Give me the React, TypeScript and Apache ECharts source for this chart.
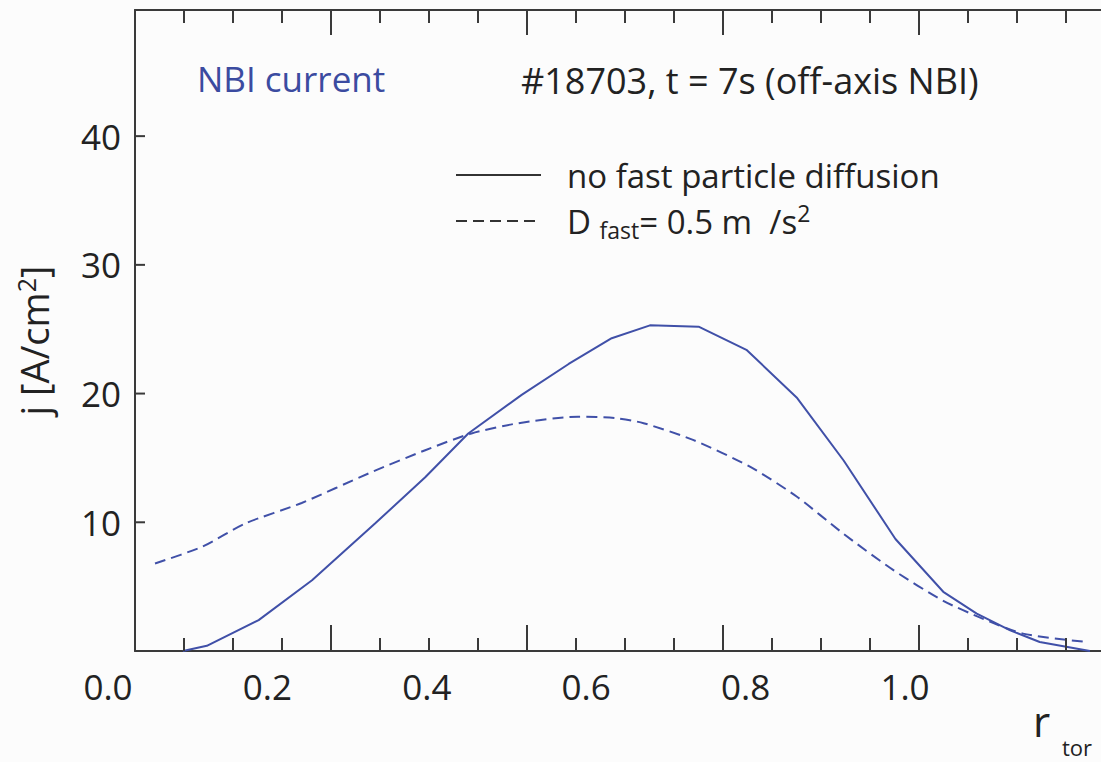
import React, { useEffect, useRef } from 'react';
import * as echarts from 'echarts';

// r_tor values (label scale) and current density j [A/cm^2]
const solidR = [0.094, 0.124, 0.189, 0.256, 0.335, 0.398, 0.452, 0.519, 0.578, 0.632, 0.680, 0.741, 0.801, 0.864, 0.923, 0.988, 1.048, 1.090, 1.132, 1.169, 1.232];
const solidJ = [0.0, 0.4, 2.4, 5.5, 9.9, 13.5, 16.9, 19.9, 22.3, 24.3, 25.3, 25.2, 23.4, 19.7, 14.8, 8.7, 4.6, 2.9, 1.6, 0.7, 0.0];

const dashR = [0.059, 0.118, 0.172, 0.243, 0.327, 0.398, 0.456, 0.515, 0.590, 0.636, 0.672, 0.734, 0.806, 0.864, 0.923, 0.985, 1.048, 1.098, 1.148, 1.228];
const dashJ = [6.8, 8.1, 9.9, 11.5, 13.8, 15.6, 16.9, 17.7, 18.2, 18.1, 17.7, 16.4, 14.3, 12.0, 9.1, 6.3, 3.9, 2.5, 1.35, 0.7];

const xTickLabels = [0.0, 0.2, 0.4, 0.6, 0.8, 1.0];
const yTickLabels = [10, 20, 30, 40];

// frame tick marks (as drawn in the original figure's own tick scale)
const frameMajorTicks = [0.2, 0.4, 0.6, 0.8];
const frameMinorTicks = [0.05, 0.1, 0.15, 0.25, 0.3, 0.35, 0.45, 0.5, 0.55, 0.65, 0.7, 0.75, 0.85, 0.9, 0.95];

const seriesNames = ['no fast particle diffusion', 'D_fast = 0.5 m^2/s'];
const titleText = '#18703, t = 7s (off-axis NBI)';
const panelLabel = 'NBI current';

export default function App() {
  const ref = useRef<HTMLDivElement>(null);
  useEffect(() => {
    const chart = echarts.init(ref.current as HTMLDivElement, null, { renderer: 'svg' });
    const font = 'Open Sans';
    const ink = '#222';
    const axisInk = '#3a3a3a';
    const tickInk = '#3a3a3a';
    const blue = '#4050a8';
    const yMax = 49.8;
    const pair = (xs: number[], ys: number[]) => xs.map((x, i) => [x, ys[i]]);

    const frameX = (position: 'top' | 'bottom') => ({
      gridIndex: 1,
      type: 'value',
      position,
      min: 0,
      max: 0.9857,
      axisLine: { show: true, onZero: false, lineStyle: { color: axisInk, width: 2 } },
      axisTick: { show: false },
      axisLabel: { show: false },
      splitLine: { show: false },
    });

    // inward tick marks of the frame, placed through the frame grid's scales
    const tickSeries = (name: string, data: number[][], dir: 'up' | 'down' | 'right', len: number) => ({
      name,
      type: 'custom',
      coordinateSystem: 'cartesian2d',
      xAxisIndex: 1,
      yAxisIndex: 1,
      silent: true,
      clip: false,
      z: 10,
      data,
      renderItem: (params: any, api: any) => {
        const p = api.coord([api.value(0), api.value(1)]);
        const shape =
          dir === 'up'
            ? { x: p[0] - 1, y: p[1] - len, width: 2, height: len }
            : dir === 'down'
            ? { x: p[0] - 1, y: p[1], width: 2, height: len }
            : { x: p[0], y: p[1] - 1, width: len, height: 2 };
        return { type: 'rect', shape, style: { fill: tickInk } };
      },
    });

    const option: any = {
      animation: false,
      backgroundColor: '#fcfcfc',
      grid: [
        { left: 108, right: 0, top: 10, bottom: 111 },
        { left: 135, right: 0, top: 10, bottom: 111 },
      ],
      xAxis: [
        {
          gridIndex: 0,
          type: 'value',
          min: 0,
          max: 1.2459,
          axisLine: { show: false },
          axisTick: { show: false },
          splitLine: { show: false },
          axisLabel: {
            margin: 18,
            fontSize: 35,
            fontFamily: font,
            color: ink,
            customValues: xTickLabels,
            formatter: (v: number) => v.toFixed(1),
          },
        },
        frameX('bottom'),
        frameX('top'),
      ],
      yAxis: [
        { gridIndex: 0, type: 'value', min: 0, max: yMax, show: false },
        {
          gridIndex: 1,
          type: 'value',
          min: 0,
          max: yMax,
          axisLine: { show: true, onZero: false, lineStyle: { color: axisInk, width: 2 } },
          axisTick: { show: false },
          splitLine: { show: false },
          axisLabel: {
            margin: 14,
            fontSize: 35,
            fontFamily: font,
            color: ink,
            customValues: yTickLabels,
            formatter: (v: number) => String(v),
          },
          name: 'j [A/cm{s|2}]',
          nameLocation: 'middle',
          nameRotate: 90,
          nameGap: 80,
          nameTextStyle: {
            fontSize: 38,
            fontFamily: font,
            color: ink,
            lineHeight: 42,
            padding: [0, 20, 0, 0],
            rich: {
              s: { fontSize: 25, fontFamily: font, color: ink, lineHeight: 20, verticalAlign: 'top' },
            },
          },
        },
      ],
      legend: {
        orient: 'vertical',
        left: 450,
        top: 150,
        itemWidth: 85,
        itemHeight: 14,
        itemGap: 6,
        data: seriesNames.map((n) => ({ name: n, lineStyle: { color: '#333', width: 2 }, itemStyle: { opacity: 0 } })),
        lineStyle: { color: '#333', width: 2 },
        itemStyle: { opacity: 0 },
        textStyle: {
          fontSize: 33,
          fontFamily: font,
          color: ink,
          lineHeight: 40,
          padding: [0, 0, 0, 21],
          rich: {
            n: { fontSize: 33, fontFamily: font, color: ink, lineHeight: 40 },
            sub: { fontSize: 23, fontFamily: font, color: ink, lineHeight: 20, verticalAlign: 'bottom' },
            sup: { fontSize: 23, fontFamily: font, color: ink, lineHeight: 20, verticalAlign: 'top' },
          },
        },
        formatter: (name: string) =>
          name === seriesNames[1] ? '{n|D }{sub|fast}{n|= 0.5 m  /s}{sup|2}' : name,
      },
      graphic: [
        {
          type: 'text',
          x: 197,
          y: 78,
          style: { text: panelLabel, fontSize: 35, fontFamily: font, fill: '#3b4ba0', verticalAlign: 'middle', align: 'left' },
        },
        {
          type: 'text',
          x: 521,
          y: 80,
          style: { text: titleText, fontSize: 36, fontFamily: font, fill: ink, verticalAlign: 'middle', align: 'left' },
        },
        {
          type: 'text',
          x: 1033,
          y: 720,
          style: { text: 'r', fontSize: 42, fontFamily: font, fill: ink, verticalAlign: 'middle', align: 'left' },
        },
        {
          type: 'text',
          x: 1062,
          y: 747,
          style: { text: 'tor', fontSize: 22, fontFamily: font, fill: ink, verticalAlign: 'middle', align: 'left' },
        },
      ],
      series: [
        {
          name: seriesNames[0],
          type: 'line',
          xAxisIndex: 0,
          yAxisIndex: 0,
          data: pair(solidR, solidJ),
          symbol: 'none',
          showSymbol: false,
          lineStyle: { color: blue, width: 2 },
          itemStyle: { color: blue },
        },
        {
          name: seriesNames[1],
          type: 'line',
          xAxisIndex: 0,
          yAxisIndex: 0,
          data: pair(dashR, dashJ),
          symbol: 'none',
          showSymbol: false,
          smooth: 0.25,
          lineStyle: { color: blue, width: 2, type: [11, 6] },
          itemStyle: { color: blue },
        },
        tickSeries('ticks bottom major', frameMajorTicks.map((v) => [v, 0]), 'up', 26),
        tickSeries('ticks bottom minor', frameMinorTicks.map((v) => [v, 0]), 'up', 13),
        tickSeries('ticks top major', frameMajorTicks.map((v) => [v, yMax]), 'down', 25),
        tickSeries('ticks top minor', frameMinorTicks.map((v) => [v, yMax]), 'down', 13),
        tickSeries('ticks left', yTickLabels.map((v) => [0, v]), 'right', 10),
      ],
    };
    chart.setOption(option);
    return () => chart.dispose();
  }, []);

  return (
    <div
      ref={ref}
      style={{ position: 'absolute', left: 0, top: 0, width: 1101, height: 762 }}
    />
  );
}
